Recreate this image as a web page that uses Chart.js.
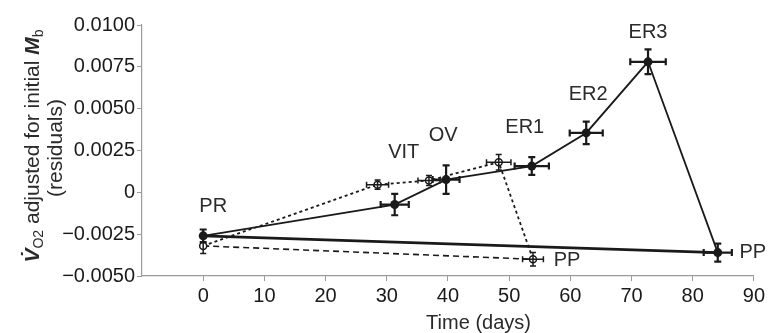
<!DOCTYPE html>
<html>
<head>
<meta charset="utf-8">
<script src="https://cdn.jsdelivr.net/npm/chart.js@4"></script>
<style>
    html, body { margin: 0; padding: 0; background: #fff; }
    #chart { display: block; }
</style>
</head>
<body>
<canvas id="chart" width="768" height="333"></canvas>
<script>
// Стадии и значения
const stages = ['PR', 'VIT', 'OV', 'ER1', 'ER2', 'ER3', 'PP'];
const solidDays = [0, 31.3, 39.7, 53.7, 62.6, 72.7, 84.1];
const solidVals = [-0.0026, -0.00073, 0.00076, 0.00157, 0.00355, 0.0078, -0.0036];
const solidDayErr = [0, 2.3, 2.2, 2.8, 2.7, 2.9, 2.3];
const solidValErr = [0.00038, 0.00064, 0.00085, 0.00053, 0.00067, 0.00074, 0.00054];

const openStages = ['PR', 'VIT', 'OV', 'ER1', 'PP'];
const openDays = [0, 28.5, 36.9, 48.3, 53.9];
const openVals = [-0.0032, 0.00046, 0.00071, 0.0018, -0.004];
const openDayErr = [0, 1.8, 1.8, 2.0, 1.7];
const openValErr = [0.00046, 0.00028, 0.0003, 0.00046, 0.0004];

const xTicks = [0, 10, 20, 30, 40, 50, 60, 70, 80, 90];
const yTicks = [-0.005, -0.0025, 0, 0.0025, 0.005, 0.0075, 0.01];

const FONT = '"Liberation Sans", Arial, sans-serif';
const INK = '#1a1a1a';
const AXIS = '#9a9a9a';

function points(days, vals) {
    return days.map((d, i) => ({ x: d, y: vals[i] }));
}

function formatY(v) {
    if (Math.abs(v) < 1e-9) return '0';
    const s = Math.abs(v).toFixed(4);
    return v < 0 ? '\u2212' + s : s;
}

// Планки погрешностей
const errorBarsPlugin = {
    id: 'errorBars',
    afterDatasetDraw(chart, args) {
        const ds = chart.data.datasets[args.index];
        if (!ds.errX) return;
        const { ctx, scales: { x, y } } = chart;
        const cap = ds.capSize;
        ctx.save();
        ctx.strokeStyle = INK;
        ctx.lineWidth = ds.errWidth;
        ctx.setLineDash([]);
        ds.data.forEach((p, i) => {
            const px = x.getPixelForValue(p.x);
            const py = y.getPixelForValue(p.y);
            const ex = ds.errX[i];
            const ey = ds.errY[i];
            ctx.beginPath();
            if (ex > 0) {
                const x1 = x.getPixelForValue(p.x - ex);
                const x2 = x.getPixelForValue(p.x + ex);
                ctx.moveTo(x1, py); ctx.lineTo(x2, py);
                ctx.moveTo(x1, py - cap); ctx.lineTo(x1, py + cap);
                ctx.moveTo(x2, py - cap); ctx.lineTo(x2, py + cap);
            }
            if (ey > 0) {
                const y1 = y.getPixelForValue(p.y - ey);
                const y2 = y.getPixelForValue(p.y + ey);
                ctx.moveTo(px, y1); ctx.lineTo(px, y2);
                ctx.moveTo(px - cap, y1); ctx.lineTo(px + cap, y1);
                ctx.moveTo(px - cap, y2); ctx.lineTo(px + cap, y2);
            }
            ctx.stroke();
        });
        ctx.restore();
    }
};

// Подписи стадий и заголовки осей
const labelsPlugin = {
    id: 'stageLabels',
    afterDraw(chart, args, opts) {
        const { ctx, scales: { x, y } } = chart;
        ctx.save();
        ctx.fillStyle = '#2a2a2a';
        ctx.font = '20px ' + FONT;
        ctx.textAlign = 'center';
        ctx.textBaseline = 'middle';

        chart.data.datasets.forEach(ds => {
            if (!ds.stageNames) return;
            ds.data.forEach((p, i) => {
                const off = ds.labelOffsets[ds.stageNames[i]];
                if (!off) return;
                ctx.fillText(ds.stageNames[i],
                    x.getPixelForValue(p.x) + off[0],
                    y.getPixelForValue(p.y) + off[1]);
            });
        });

        // Заголовок оси X
        ctx.textBaseline = 'alphabetic';
        ctx.fillText('Time (days)', x.getPixelForValue(45), 329);

        // Заголовок оси Y (две строки, повернуто)
        const parts = [
            { t: 'V\u0307', f: 'bold italic 21px ' + FONT, dy: 0 },
            { t: 'O2', f: '14px ' + FONT, dy: 4 },
            { t: ' adjusted for initial ', f: '21px ' + FONT, dy: 0 },
            { t: 'M', f: 'bold italic 21px ' + FONT, dy: 0 },
            { t: 'b', f: '14px ' + FONT, dy: 4 }
        ];
        let total = 0;
        parts.forEach(pt => { ctx.font = pt.f; pt.w = ctx.measureText(pt.t).width; total += pt.w; });

        ctx.save();
        ctx.translate(39, 146);
        ctx.rotate(-Math.PI / 2);
        ctx.textAlign = 'left';
        let cx = -total / 2;
        parts.forEach(pt => {
            ctx.font = pt.f;
            ctx.fillText(pt.t, cx, pt.dy);
            cx += pt.w;
        });
        ctx.restore();

        ctx.save();
        ctx.translate(62, 148);
        ctx.rotate(-Math.PI / 2);
        ctx.font = '21px ' + FONT;
        ctx.textAlign = 'center';
        ctx.fillText('(residuals)', 0, 0);
        ctx.restore();

        ctx.restore();
    }
};

const ctx = document.getElementById('chart').getContext('2d');

new Chart(ctx, {
    type: 'line',
    data: {
        datasets: [
            {
                // основной путь (закрашенные точки)
                data: points(solidDays, solidVals),
                borderColor: INK,
                borderWidth: 1.8,
                pointRadius: 4.5,
                pointBackgroundColor: INK,
                pointBorderColor: INK,
                pointBorderWidth: 0,
                tension: 0,
                order: 0,
                errX: solidDayErr,
                errY: solidValErr,
                errWidth: 2.2,
                capSize: 3.5,
                stageNames: stages,
                labelOffsets: {
                    PR: [10, -29], VIT: [9, -52], OV: [-3, -44], ER1: [-7, -39],
                    ER2: [2, -38], ER3: [0, -29], PP: [35, 0]
                }
            },
            {
                // открытые точки
                data: points(openDays, openVals),
                borderColor: INK,
                borderWidth: 1.8,
                borderDash: [3, 3],
                pointRadius: 3.5,
                pointBackgroundColor: '#fff',
                pointBorderColor: INK,
                pointBorderWidth: 1.5,
                tension: 0,
                order: 1,
                errX: openDayErr,
                errY: openValErr,
                errWidth: 1.5,
                capSize: 3,
                stageNames: openStages,
                labelOffsets: { PP: [34, 1] }
            },
            {
                // PR -> PP (сплошная)
                data: [
                    { x: solidDays[0], y: solidVals[0] },
                    { x: solidDays[solidDays.length - 1], y: solidVals[solidVals.length - 1] }
                ],
                borderColor: INK,
                borderWidth: 2.8,
                pointRadius: 0,
                order: 2
            },
            {
                // PR -> PP (пунктир)
                data: [
                    { x: openDays[0], y: openVals[0] },
                    { x: openDays[openDays.length - 1], y: openVals[openVals.length - 1] }
                ],
                borderColor: INK,
                borderWidth: 1.6,
                borderDash: [6, 4],
                pointRadius: 0,
                order: 3
            }
        ]
    },
    options: {
        responsive: false,
        animation: false,
        devicePixelRatio: 1,
        layout: { padding: { top: 25, right: 14, left: 0, bottom: 0 } },
        plugins: {
            legend: { display: false },
            tooltip: { enabled: false }
        },
        scales: {
            x: {
                type: 'linear',
                min: -10,
                max: 90,
                afterBuildTicks: scale => {
                    scale.ticks = [-10].concat(xTicks).map(v => ({ value: v }));
                },
                afterFit: scale => { scale.height = 57; },
                border: { color: AXIS, width: 1.2 },
                grid: {
                    drawOnChartArea: false,
                    tickLength: 5,
                    color: c => (c.tick && c.tick.value === -10) ? 'rgba(0,0,0,0)' : AXIS
                },
                ticks: {
                    padding: 3,
                    color: INK,
                    font: { family: FONT, size: 20 },
                    maxRotation: 0,
                    callback: v => (v === -10 ? '' : String(v))
                }
            },
            y: {
                min: -0.005,
                max: 0.01,
                afterBuildTicks: scale => {
                    scale.ticks = yTicks.map(v => ({ value: v }));
                },
                afterFit: scale => { scale.width = 142; },
                border: { color: AXIS, width: 1.2 },
                grid: {
                    drawOnChartArea: false,
                    tickLength: 5,
                    color: AXIS
                },
                ticks: {
                    padding: 2,
                    color: INK,
                    font: { family: FONT, size: 20 },
                    callback: v => formatY(v)
                }
            }
        }
    },
    plugins: [errorBarsPlugin, labelsPlugin]
});
</script>
</body>
</html>
